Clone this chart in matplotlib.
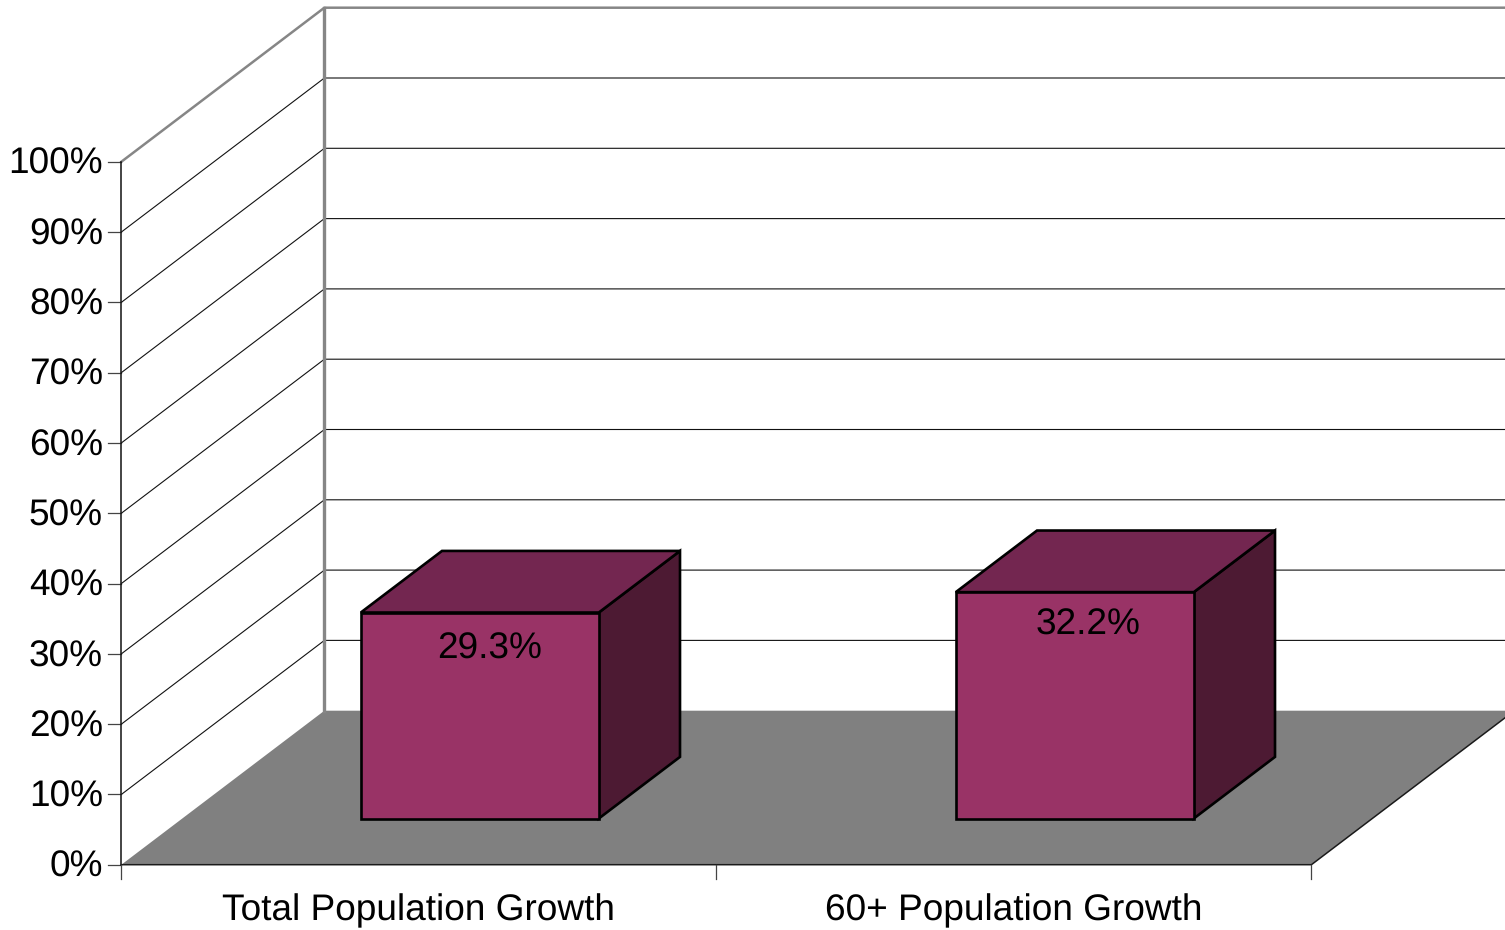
import matplotlib
matplotlib.use("Agg")
import matplotlib.pyplot as plt
from matplotlib.patches import Polygon

categories = ["Total Population Growth", "60+ Population Growth"]
values = [29.3, 32.2]
label_levels = [24.05, 27.55]
label_shift = [0.017, 0.022]
value_ticks = [0, 10, 20, 30, 40, 50, 60, 70, 80, 90, 100]
value_tick_labels = ["0%", "10%", "20%", "30%", "40%", "50%", "60%", "70%", "80%", "90%", "100%"]

W, H = 1505, 930
FACE, TOP, SIDE, FLOOR, WALL = "#993366", "#732650", "#4d1a33", "#808080", "#868686"
FONT = "Liberation Sans"
FS = 26.7
plt.rcParams["text.hinting"] = "none"
plt.rcParams["text.hinting_factor"] = 1

fig = plt.figure(figsize=(W / 100, H / 100), dpi=100, facecolor="white")
ax = fig.add_axes([0, 0, 1, 1])
ax.set_xlim(0, W)
ax.set_ylim(H, 0)
ax.axis("off")

# oblique projection: category position, percent value and depth 0..1 -> canvas
ORIGIN_X, ORIGIN_Y = 121.4, 864.7
PX_CAT, PX_PCT = 595.0, 7.03
DEPTH_X, DEPTH_Y = 203.0, -154.0


def P(c, v, d=0.0):
    return (ORIGIN_X + c * PX_CAT + d * DEPTH_X, ORIGIN_Y - v * PX_PCT + d * DEPTH_Y)


n = len(categories)
vmax = value_ticks[-1]

# floor
ax.add_patch(Polygon([P(0, 0), P(n, 0), P(n, 0, 1), P(0, 0, 1)], closed=True,
                     fc=FLOOR, ec="none", zorder=1))

# gridlines on walls
for v in value_ticks:
    top = v == vmax
    col = WALL if top else "#111111"
    lw = 1.8 if top else 0.8
    if v > 0:
        xs, ys = zip(P(0, v), P(0, v, 1), P(n, v, 1))
        ax.plot(xs, ys, color=col, lw=lw, solid_joinstyle="miter", zorder=2)
    xs, ys = zip(P(0, v), (P(0, v)[0] - 13, P(0, v)[1]))
    ax.plot(xs, ys, color="#444444", lw=0.9, zorder=2)
    ax.text(P(0, v)[0] - 18.4, P(0, v)[1] + 2.8, value_tick_labels[v // 10], ha="right",
            va="center", family=FONT, fontsize=FS, color="black")

# back wall edge, value axis, category axis
xs, ys = zip(P(0, 0, 1), P(0, vmax, 1))
ax.plot(xs, ys, color=WALL, lw=2.4, zorder=2)
xs, ys = zip(P(0, 0), P(0, vmax))
ax.plot(xs, ys, color="#111111", lw=1.1, zorder=2)
xs, ys = zip(P(0, 0), P(n, 0), P(n, 0, 1))
ax.plot(xs, ys, color="#1a1a1a", lw=1.1, zorder=2)
for c in range(n + 1):
    xs, ys = zip(P(c, 0), (P(c, 0)[0], P(c, 0)[1] + 14))
    ax.plot(xs, ys, color="#444444", lw=0.9, zorder=2)

# bars
for i, (name, val) in enumerate(zip(categories, values)):
    c0, c1 = i + 0.3, i + 0.7
    d0, d1 = 0.3, 0.7
    pk = dict(closed=True, ec="black", lw=1.9, joinstyle="miter", zorder=3)
    ax.add_patch(Polygon([P(c1, 0, d0), P(c1, 0, d1), P(c1, val, d1), P(c1, val, d0)], fc=SIDE, **pk))
    ax.add_patch(Polygon([P(c0, val, d0), P(c1, val, d0), P(c1, val, d1), P(c0, val, d1)], fc=TOP, **pk))
    ax.add_patch(Polygon([P(c0, 0, d0), P(c1, 0, d0), P(c1, val, d0), P(c0, val, d0)], fc=FACE, **pk))
    lx, ly = P(i + 0.5 + label_shift[i], label_levels[i], d0)
    ax.text(lx, ly, f"{val:.1f}%", ha="center", va="center", family=FONT, fontsize=FS,
            color="black", zorder=4)
    tx, ty = P(i + 0.5, 0)
    ax.text(tx, ty + 46, name, ha="center", va="center", family=FONT, fontsize=FS, color="black")

fig.savefig("out.png", dpi=100, facecolor="white")
